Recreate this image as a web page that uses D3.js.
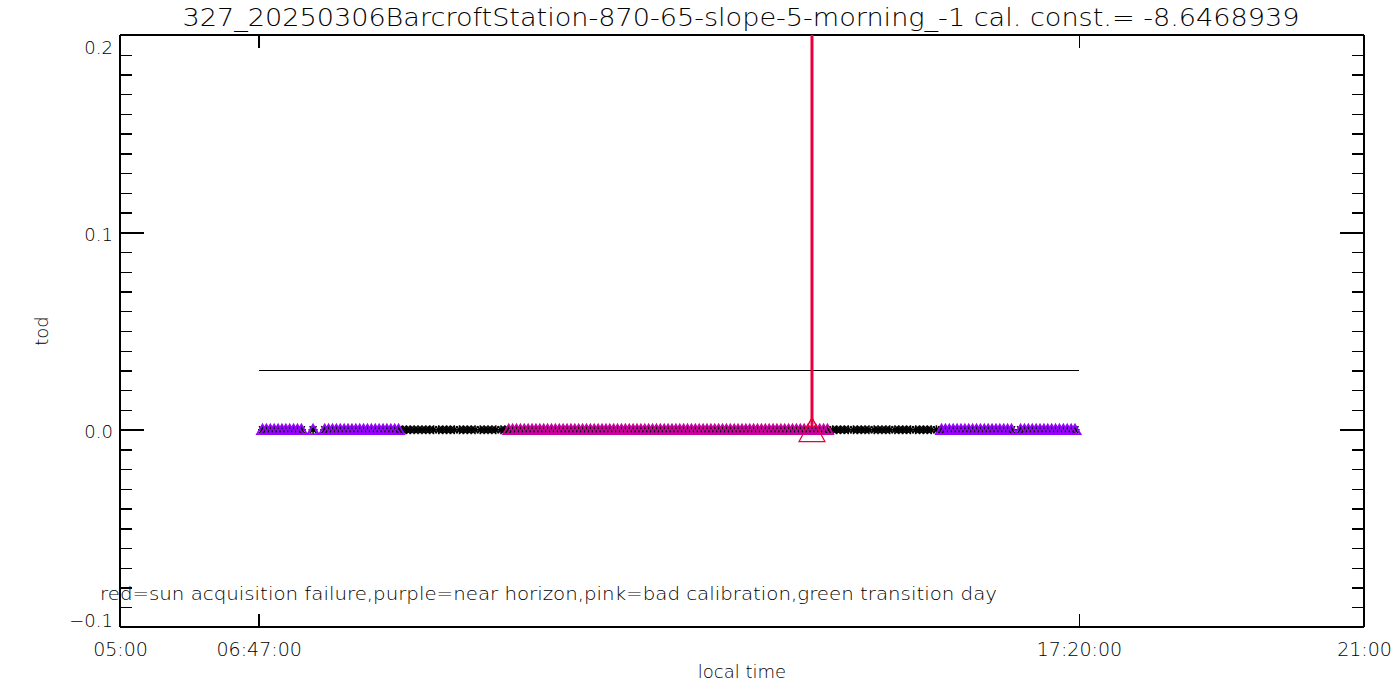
<!DOCTYPE html>
<html>
<head>
<meta charset="utf-8">
<script src="https://cdn.jsdelivr.net/npm/d3@7"></script>
<style>
  html, body { margin: 0; padding: 0; background: #fff; }
  svg { display: block; }
  text { font-family: "DejaVu Sans", "Liberation Sans", sans-serif; font-weight: 200; fill: #000; }
</style>
</head>
<body>
<svg id="chart" width="1400" height="700"></svg>
<script>
// ---------------- data (times in minutes since local midnight) ----------------
const titleText = "327_20250306BarcroftStation-870-65-slope-5-morning_-1 cal. const.= -8.6468939";
const legendText = "red=sun acquisition failure,purple=near horizon,pink=bad calibration,green transition day";
const xLabel = "local time";
const yLabel = "tod";

const xDomain = [300, 1260];                 // 05:00 .. 21:00
const xTickValues = [300, 407, 1040, 1260];
const xTickLabels = ["05:00", "06:47:00", "17:20:00", "21:00"];
const yDomain = [-0.1, 0.2];
const yMajorTicks = [-0.1, 0.0, 0.1, 0.2];
const yTickLabels = ["\u22120.1", "0.0", "0.1", "0.2"];

const thresholdTod = 0.03;
const thresholdStart = 407, thresholdEnd = 1040;

const purpleTimes = [410,413,416,419,422,425,428,431,434,437,440, 449,
  458,461,464,467,470,473,476,479,482,485,488,491,494,497,500,503,506,509,512,515,
  934,937,940,943,946,949,952,955,958,961,964,967,970,973,976,979,982,985,988,
  995,998,1001,1004,1007,1010,1013,1016,1019,1022,1025,1028,1031,1034,1037];
const blackTimes = [518,521,524,527,530,533,536,539,542,546,549,552,555,558,562,565,568,571,574,578,581,584,587,590,594,597,
  850,853,856,859,862,866,869,872,875,878,882,885,888,891,894,898,901,904,907,910,914,917,920,923,926,930];
const pinkTimes = [600,603,606,609,612,615,618,621,624,627,630,633,636,639,642,645,648,651,654,657,
  660,663,666,669,672,675,678,681,684,687,690,693,696,699,702,705,708,711,714,717,
  720,723,726,729,732,735,738,741,744,747,750,753,756,759,762,765,768,771,774,777,
  780,783,786,789,792,795,798,801,804,807,810,813,816,819,822,825,828,831,834,837,840,843,846];
const todValue = 0.0;            // all observations sit at tod = 0
const failureTimes = [834];      // red = sun acquisition failure
const failureTop = 0.2;

const colors = { purple: "#9a00ff", pink: "#cc00a0", black: "#000000", red: "#e8003c" };

// ---------------- layout ----------------
const svg = d3.select("#chart");
const L = 120, R = 1364, T = 35, B = 627;
const x = d3.scaleLinear().domain(xDomain).range([L, R]);
const y = d3.scaleLinear().domain(yDomain).range([B, T]);
const yMinor = d3.range(-100, 201, 10).map(v => v / 1000).filter(v => !yMajorTicks.some(m => Math.abs(m - v) < 1e-9));

svg.append("defs").append("clipPath").attr("id", "clip")
  .append("rect").attr("x", L).attr("y", T).attr("width", R - L).attr("height", B - T);

function styleAxis(g) {
  g.select(".domain").remove();
  g.selectAll(".tick line").attr("stroke", "#000").attr("stroke-width", 1.4).attr("shape-rendering", "crispEdges");
}

// left axis with labels
const yl = svg.append("g").attr("transform", `translate(${L},0)`)
  .call(d3.axisLeft(y).tickValues(yMajorTicks).tickSize(-24).tickPadding(8)
    .tickFormat((d, i) => yTickLabels[i]));
styleAxis(yl);
yl.selectAll(".tick text").attr("font-size", 18).attr("dy", (d) => d === 0.2 ? "1.05em" : d === -0.1 ? "-0.05em" : "0.45em")
  .attr("x", -7);
svg.append("g").attr("transform", `translate(${L},0)`)
  .call(d3.axisLeft(y).tickValues(yMinor).tickSize(-12).tickFormat("")).call(styleAxis);
// right axis
svg.append("g").attr("transform", `translate(${R},0)`)
  .call(d3.axisRight(y).tickValues(yMajorTicks).tickSize(-24).tickFormat("")).call(styleAxis);
svg.append("g").attr("transform", `translate(${R},0)`)
  .call(d3.axisRight(y).tickValues(yMinor).tickSize(-12).tickFormat("")).call(styleAxis);

// bottom axis
const xb = svg.append("g").attr("transform", `translate(0,${B})`)
  .call(d3.axisBottom(x).tickValues(xTickValues).tickSize(-13).tickPadding(16)
    .tickFormat((d, i) => xTickLabels[i]));
styleAxis(xb);
xb.selectAll(".tick text").attr("font-size", 19);
// top axis
svg.append("g").attr("transform", `translate(0,${T})`)
  .call(d3.axisTop(x).tickValues(xTickValues).tickSize(-13).tickFormat("")).call(styleAxis);

// frame
const frame = svg.append("g").attr("stroke", "#000").attr("stroke-width", 1.4).attr("shape-rendering", "crispEdges");
frame.append("line").attr("x1", L).attr("x2", R).attr("y1", T).attr("y2", T);
frame.append("line").attr("x1", L).attr("x2", R).attr("y1", B).attr("y2", B);
frame.append("line").attr("x1", L).attr("x2", L).attr("y1", T).attr("y2", B);
frame.append("line").attr("x1", R).attr("x2", R).attr("y1", T).attr("y2", B);

// titles
svg.append("text").attr("x", 741).attr("y", 26).attr("text-anchor", "middle").attr("font-size", 24)
  .attr("textLength", 1117).attr("lengthAdjust", "spacingAndGlyphs").text(titleText);
svg.append("text").attr("x", 742).attr("y", 678).attr("text-anchor", "middle").attr("font-size", 18).text(xLabel);
svg.append("text").attr("transform", "translate(48,331) rotate(-90)").attr("text-anchor", "middle")
  .attr("font-size", 18).text(yLabel);

// plot content
const plot = svg.append("g").attr("clip-path", "url(#clip)");

// threshold line
plot.append("line").attr("x1", x(thresholdStart)).attr("x2", x(thresholdEnd))
  .attr("y1", y(thresholdTod)).attr("y2", y(thresholdTod))
  .attr("stroke", "#000").attr("stroke-width", 1).attr("shape-rendering", "crispEdges");

const asterisk = "M-4.5,0H4.5M0,-4.5V4.5M-3.5,-3.5L3.5,3.5M-3.5,3.5L3.5,-3.5";
const tri = "M0,-5L5.5,4.5L-5.5,4.5Z";
const allTimes = purpleTimes.concat(blackTimes, pinkTimes).sort((a, b) => a - b);

plot.append("g").selectAll("path").data(allTimes).join("path")
  .attr("transform", d => `translate(${x(d)},${y(todValue)})`)
  .attr("d", asterisk).attr("fill", "none").attr("stroke", colors.black).attr("stroke-width", 1.5);

[[purpleTimes, colors.purple], [pinkTimes, colors.pink]].forEach(([times, c]) => {
  plot.append("g").selectAll("path").data(times).join("path")
    .attr("transform", d => `translate(${x(d)},${y(todValue)})`)
    .attr("d", tri).attr("fill", "none").attr("stroke", c).attr("stroke-width", 1.8);
});

// sun acquisition failures
failureTimes.forEach(t => {
  plot.append("line").attr("x1", x(t)).attr("x2", x(t)).attr("y1", y(todValue) - 5).attr("y2", y(failureTop))
    .attr("stroke", colors.red).attr("stroke-width", 3);
  plot.append("path").attr("transform", `translate(${x(t)},${y(todValue)})`)
    .attr("d", "M0,-12L13,12L-13,12Z").attr("fill", "none").attr("stroke", colors.red).attr("stroke-width", 1.2);
  plot.append("path").attr("transform", `translate(${x(t)},${y(todValue)})`)
    .attr("d", "M0,-12L5,-3L-5,-3Z").attr("fill", "none").attr("stroke", colors.red).attr("stroke-width", 1);
});

// legend note
svg.append("text").attr("x", 100).attr("y", 600).attr("font-size", 18)
  .attr("textLength", 897).attr("lengthAdjust", "spacingAndGlyphs").text(legendText);
</script>
</body>
</html>
